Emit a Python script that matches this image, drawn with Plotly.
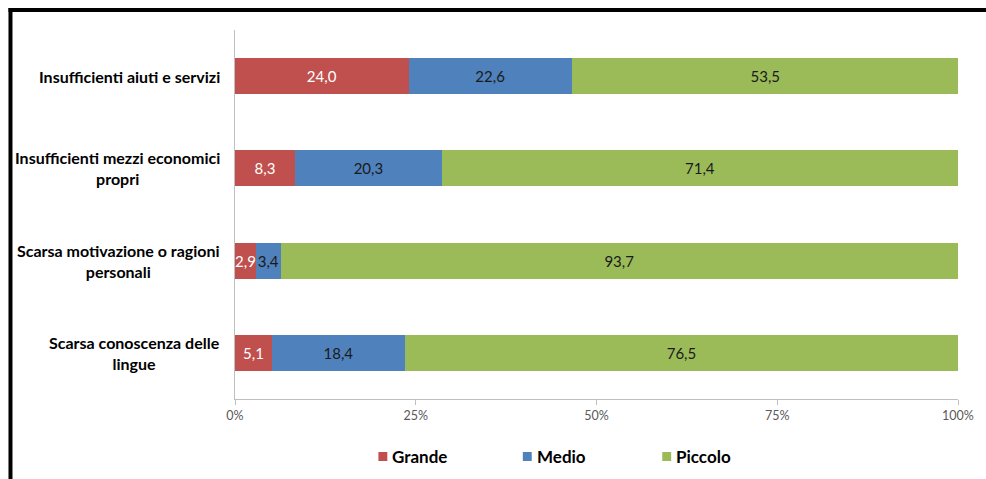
import plotly.graph_objects as go

# Barriers and share of each level (percent)
categories = [
    "Insufficienti aiuti e servizi",
    "Insufficienti mezzi economici<br>propri",
    "Scarsa motivazione o ragioni<br>personali",
    "Scarsa conoscenza delle<br>lingue",
]
series_names = ["Grande", "Medio", "Piccolo"]
grande = [24.0, 8.3, 2.9, 5.1]
medio = [22.6, 20.3, 3.4, 18.4]
piccolo = [53.5, 71.4, 93.7, 76.5]
tick_vals = [0, 25, 50, 75, 100]
tick_text = ["0%", "25%", "50%", "75%", "100%"]

colors = ["#C0504D", "#4F81BD", "#9BBB59"]
label_colors = ["#FFFFFF", "#1A1A1A", "#1A1A1A"]
FONT = "Lato, Calibri, Carlito, sans-serif"

W, H = 986, 479
L, R, T, B = 235, 20, 30, 80
plot_w = W - L - R
plot_h = H - T - B


def px(x):
    return (x - L) / plot_w


def py(y):
    return (H - B - y) / plot_h


fig = go.Figure()
for name, vals, col, tcol in zip(series_names, [grande, medio, piccolo], colors, label_colors):
    fig.add_trace(go.Bar(
        name=name,
        y=list(range(len(categories))),
        x=vals,
        orientation="h",
        marker=dict(color=col, line=dict(width=0)),
        texttemplate="%{x:.1f}",
        textposition="inside",
        insidetextanchor="middle",
        constraintext="none",
        textangle=0,
        textfont=dict(family=FONT, size=15, color=tcol),
        showlegend=False,
    ))

annotations = []
for i, cat in enumerate(categories):
    annotations.append(dict(
        x=px(222), xref="paper", y=i, yref="y",
        text="<b>" + cat + "</b>", showarrow=False,
        xanchor="right", yanchor="middle", align="center",
        font=dict(family=FONT, size=16, color="#000000"),
    ))

# legend row
legend_x = [380, 526, 667]
shapes = []
for name, col, lx in zip(series_names, colors, legend_x):
    shapes.append(dict(type="rect", xref="paper", yref="paper",
                       x0=px(lx), x1=px(lx + 9), y0=py(461), y1=py(452),
                       fillcolor=col, line=dict(width=0)))
    annotations.append(dict(
        x=px(lx + 12), xref="paper", y=py(456.5), yref="paper",
        text="<b>" + name + "</b>", showarrow=False,
        xanchor="left", yanchor="middle",
        font=dict(family=FONT, size=17, color="#000000"),
    ))

# frame
shapes.append(dict(type="line", xref="paper", yref="paper",
                   x0=px(6), x1=px(1000), y0=py(10), y1=py(10),
                   line=dict(color="#000000", width=4)))
shapes.append(dict(type="line", xref="paper", yref="paper",
                   x0=px(8), x1=px(8), y0=py(8), y1=py(500),
                   line=dict(color="#000000", width=4)))

fig.update_layout(
    width=W, height=H,
    margin=dict(l=L, r=R, t=T, b=B),
    barmode="stack",
    bargap=0.61,
    separators=",.",
    plot_bgcolor="white",
    paper_bgcolor="white",
    showlegend=False,
    annotations=annotations,
    shapes=shapes,
    xaxis=dict(
        range=[0, 100],
        tickvals=tick_vals, ticktext=tick_text,
        ticks="outside", ticklen=5, tickcolor="#BFBFBF",
        showline=True, linecolor="#BFBFBF", linewidth=1,
        showgrid=False, zeroline=False,
        ticklabeloverflow="allow",
        tickfont=dict(family=FONT, size=12.5, color="#595959"),
    ),
    yaxis=dict(
        range=[len(categories) - 0.5, -0.5],
        showticklabels=False,
        showline=True, linecolor="#BFBFBF", linewidth=1,
        showgrid=False, zeroline=False, ticks="",
    ),
)

fig.write_html("out.html")
